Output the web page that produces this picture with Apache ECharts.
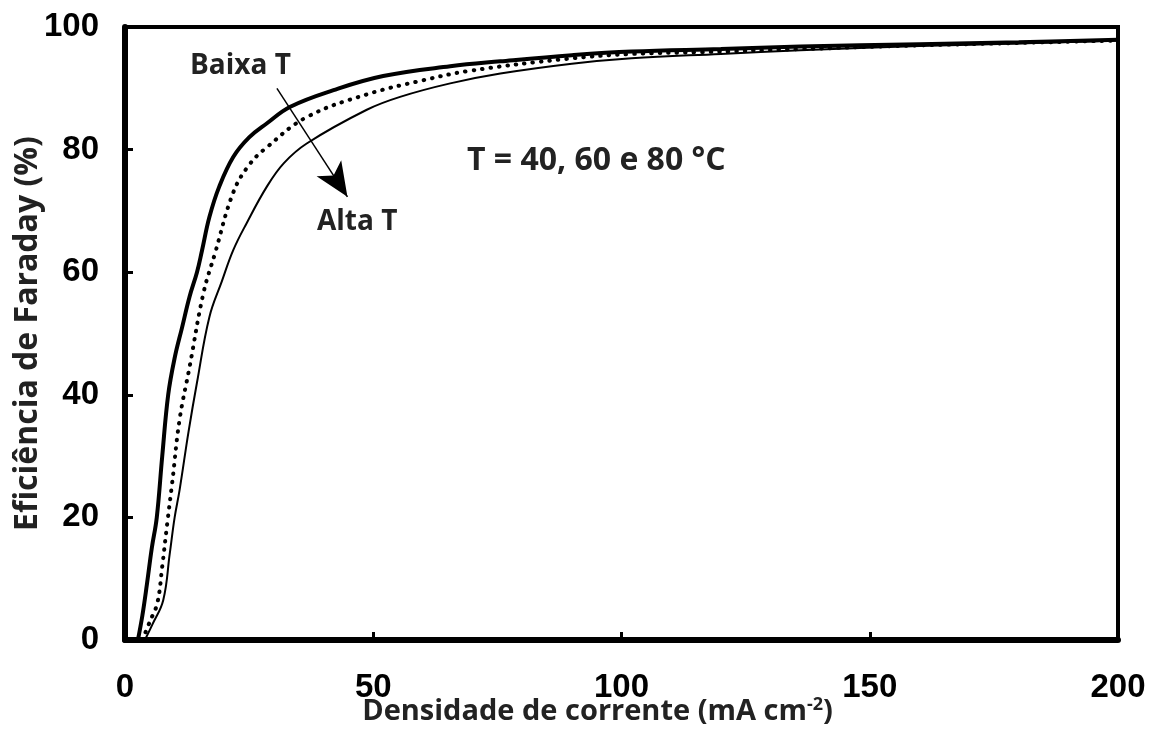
<!DOCTYPE html>
<html><head><meta charset="utf-8">
<script src="https://cdn.jsdelivr.net/npm/echarts@6/dist/echarts.min.js"></script>
<style>html,body{margin:0;padding:0;background:#fff}#c{width:1156px;height:743px}</style>
</head><body><div id="c"></div>
<script>
// Data: [current density (mA cm-2), Faraday efficiency (%)]
var lowT = [[2.6,0],[3.5,4],[4.4,9],[5.4,15],[6.4,20],[7.5,30],[8.7,40],[10,46],[11.5,51],[13,56],[14.5,60],[15.5,63.5],[17,69],[19,74],[21.8,78.8],[25,82],[28.6,84.3],[33.3,87],[42,89.7],[52,92],[65.5,93.6],[75.6,94.4],[90,95.4],[102,96],[120,96.4],[136,96.8],[160,97.2],[180,97.5],[200,97.9]];
var midT = [[3.5,0],[5,3],[6.5,6],[7.5,12],[8.5,19],[9.5,25.6],[11,36],[13,44.5],[15.8,56.6],[18.1,63],[21.8,73],[25,77.5],[28.6,80.4],[36.6,85.3],[48.7,89],[60,91.3],[69,92.8],[89,94.8],[102,95.6],[116,95.9],[136,96.4],[160,97],[180,97.4],[200,97.8]];
var highT = [[4,0],[5.5,2.5],[7.7,6.5],[9,14],[10,20],[11,24.5],[12.8,34],[14.5,42],[17,52.7],[19.5,58.5],[21.8,63.6],[24.5,68],[28.6,74],[32,77.8],[36.6,81],[48.7,86.5],[55.4,88.6],[65.5,90.8],[75.6,92.4],[90,94],[102,94.9],[120,95.6],[136,96.2],[160,96.9],[180,97.3],[200,97.8]];
var arrowFrom = [30.6, 90];
var arrowTo = [44.8, 72.3];
var xTicks = {min: 0, max: 200, interval: 50};
var yTicks = {min: 0, max: 100, interval: 20};

var chart = echarts.init(document.getElementById('c'));
function txt(t, size) { return {text: t, fontFamily: 'Open Sans', fontWeight: 'bold', fontSize: size, fill: '#222'}; }
chart.setOption({
  backgroundColor: '#fff',
  animation: false,
  grid: {left: 125, right: 38, top: 27, bottom: 103, containLabel: false, outerBoundsMode: 'none', show: true, borderColor: '#000', borderWidth: 4, backgroundColor: 'transparent'},
  xAxis: {
    type: 'value', min: xTicks.min, max: xTicks.max, interval: xTicks.interval,
    axisLine: {lineStyle: {color: '#000', width: 6}},
    axisTick: {inside: true, length: 8, lineStyle: {color: '#000', width: 3}},
    splitLine: {show: false},
    axisLabel: {margin: 31, fontFamily: 'Liberation Sans', fontWeight: 'bold', fontSize: 33, color: '#000'},
    name: '{a|Densidade de corrente (mA cm}{s|-2}{a|)}',
    nameLocation: 'middle', nameGap: 56, nameMoveOverlap: false,
    nameTextStyle: {padding: [0, 48, 0, 0], rich: {
      a: {fontFamily: 'Open Sans', fontWeight: 'bold', fontSize: 29, color: '#222'},
      s: {fontFamily: 'Open Sans', fontWeight: 'bold', fontSize: 18, color: '#222', verticalAlign: 'top', padding: [0,0,14,0]}
    }}
  },
  yAxis: {
    type: 'value', min: yTicks.min, max: yTicks.max, interval: yTicks.interval,
    axisLine: {lineStyle: {color: '#000', width: 6}},
    axisTick: {inside: true, length: 8, lineStyle: {color: '#000', width: 3}},
    splitLine: {show: false},
    axisLabel: {margin: 26, fontFamily: 'Liberation Sans', fontWeight: 'bold', fontSize: 33, color: '#000'},
    name: 'Eficiência de Faraday (%)',
    nameLocation: 'middle', nameGap: 81, nameMoveOverlap: false,
    nameTextStyle: {fontFamily: 'Open Sans', fontWeight: 'bold', fontSize: 32, color: '#222'}
  },
  series: [
    {type: 'line', data: lowT, smooth: 0.4, showSymbol: false, lineStyle: {color: '#000', width: 4}, z: 3},
    {type: 'line', data: midT, smooth: 0.4, showSymbol: false, lineStyle: {color: '#000', width: 4, type: [0.5, 8], cap: 'round'}, z: 3},
    {type: 'line', data: highT, smooth: 0.4, showSymbol: false, lineStyle: {color: '#000', width: 2}, z: 3,
      markLine: {
        silent: true, symbol: ['none', 'arrow'], symbolSize: [22, 34],
        label: {show: false},
        lineStyle: {color: '#000', width: 1.5, type: 'solid'},
        data: [[{coord: arrowFrom}, {coord: arrowTo}]]
      }
    }
  ],
  graphic: [
    {type: 'text', left: 190, top: 52, style: txt('Baixa T', 28)},
    {type: 'text', left: 317, top: 208, style: txt('Alta T', 28)},
    {type: 'text', left: 467, top: 145, style: txt('T = 40, 60 e 80 °C', 32)}
  ]
});
</script></body></html>
